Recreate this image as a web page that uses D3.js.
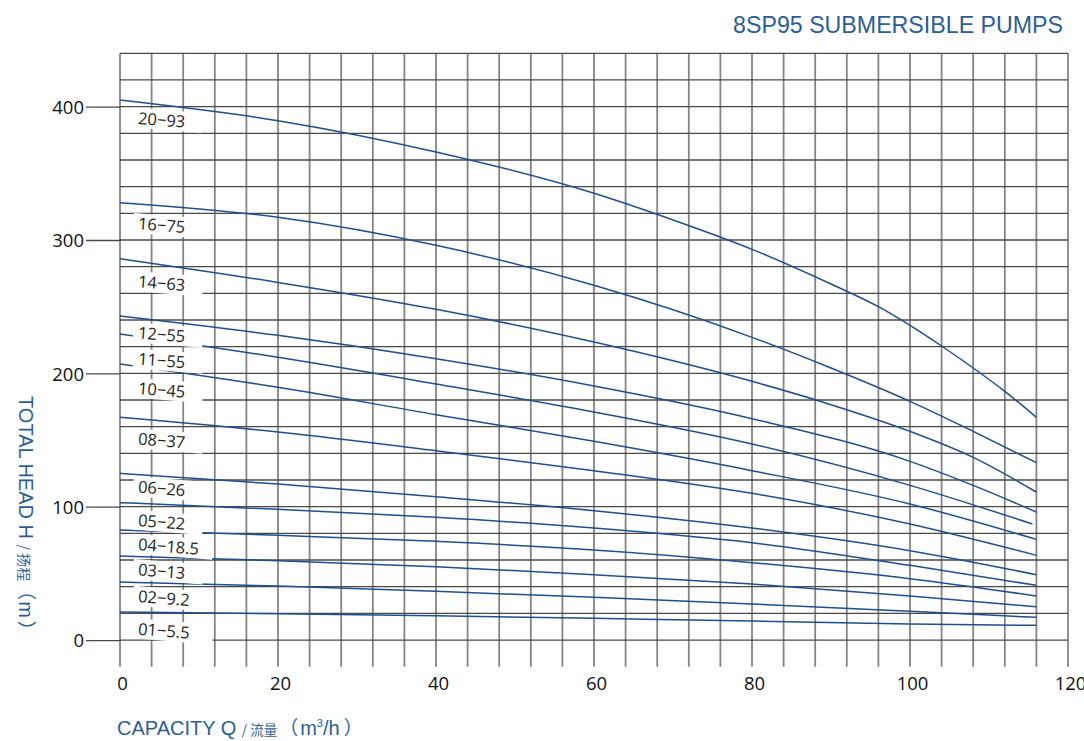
<!DOCTYPE html>
<html><head><meta charset="utf-8">
<script src="https://cdn.jsdelivr.net/npm/d3@7"></script>
<style>
html,body{margin:0;padding:0;background:#fff;}
svg{display:block;}
</style></head>
<body>
<svg id="chart" width="1084" height="741"></svg>
<script>
// ---- data ----
const curveNames = ["20-93","16-75","14-63","12-55","11-55","10-45","08-37","06-26","05-22","04-18.5","03-13","02-9.2","01-5.5"];
const q_20_93 = [0,20,40,60,70,80,90,96,100,104,108,112,116];
const h_20_93 = [405,389.5,366,335,315,293,267,250,236,220.5,204,186.5,167];
const q_16_75 = [0,20,40,60,80,90,100,108,116];
const h_16_75 = [328,317,296,266,227,204,179,156.5,133];
const q_14_63 = [0,20,40,60,80,90,100,108,116];
const h_14_63 = [286,268.2,248,223.5,194,176.5,156.5,137,111];
const q_12_55 = [0,20,40,60,80,100,108,116];
const h_12_55 = [243,228.5,211,190.5,166,134,116,96];
const q_11_55 = [0,20,40,60,80,100,115.5];
const h_11_55 = [229.5,212,192,171,147,116,87];
const q_10_45 = [0,20,40,60,80,100,116];
const h_10_45 = [207,189.5,169,149,127,102,75.5];
const q_08_37 = [0,20,40,60,80,100,116];
const h_08_37 = [167,156,142,127,110,87,63.5];
const q_06_26 = [0,20,40,60,80,100,116];
const h_06_26 = [125,117,107.5,97,84,67,49];
const q_05_22 = [0,20,40,60,80,100,116];
const h_05_22 = [103,98,92,84,73,56,41];
const q_04_18 = [0,20,40,60,80,100,116];
const h_04_18 = [82.5,78.5,74,67.5,58,46,33];
const q_03_13 = [0,20,40,60,80,100,116];
const h_03_13 = [63,59.5,55,49,42,33,25];
const q_02_9 = [0,20,40,60,80,100,116];
const h_02_9 = [43.5,40.5,36.5,32,27,21.5,17];
const q_01_5 = [0,20,40,60,80,100,116];
const h_01_5 = [21,19.8,18.2,16.3,14.3,12,11];
// head value at the centre of each curve label
const labelHead = [391.5,312.5,269,230.5,211,189,151,115,90,72,53,33,8.5];
const xTicks = [0,20,40,60,80,100,120];
const yTicks = [0,100,200,300,400];

const qs = [q_20_93,q_16_75,q_14_63,q_12_55,q_11_55,q_10_45,q_08_37,q_06_26,q_05_22,q_04_18,q_03_13,q_02_9,q_01_5];
const hs = [h_20_93,h_16_75,h_14_63,h_12_55,h_11_55,h_10_45,h_08_37,h_06_26,h_05_22,h_04_18,h_03_13,h_02_9,h_01_5];

// ---- layout ----
const svg = d3.select("#chart");
const x = d3.scaleLinear().domain([0,120]).range([120,1068]);
const y = d3.scaleLinear().domain([-20,440]).range([666.7,53.3]);

const blue = "#2c5e93";
const lineBlue = "#1f4f8e";

// title
svg.append("text").attr("x",1063).attr("y",33).attr("text-anchor","end")
  .attr("font-family","'Liberation Sans', Arial, sans-serif").attr("font-size",23.2)
  .attr("fill",blue).text("8SP95 SUBMERSIBLE PUMPS");

// grid
const grid = svg.append("g");
grid.selectAll("line.v").data(d3.range(0,121,4)).join("line")
  .attr("x1",d=>x(d)).attr("x2",d=>x(d)).attr("y1",y(440)).attr("y2",y(-20))
  .attr("stroke","#858585").attr("stroke-width",1.8);
grid.selectAll("line.h").data(d3.range(0,441,20)).join("line")
  .attr("x1",x(0)).attr("x2",x(120)).attr("y1",d=>y(d)).attr("y2",d=>y(d))
  .attr("stroke","#4a4a4a").attr("stroke-width",1.3);

// y axis (ticks extend left)
const yAxis = d3.axisLeft(y).tickValues(yTicks).tickSize(34).tickPadding(2);
const gy = svg.append("g").attr("transform",`translate(${x(0)},0)`).call(yAxis);
gy.select(".domain").remove();
gy.selectAll(".tick line").attr("stroke","#4a4a4a").attr("stroke-width",1.3);
gy.selectAll(".tick text").attr("font-family","'Open Sans', 'Noto Sans', sans-serif")
  .attr("font-size",18.5).attr("fill","#111").attr("dy","0.36em");

// x axis
const xAxis = d3.axisBottom(x).tickValues(xTicks).tickSize(0).tickPadding(10);
const gx = svg.append("g").attr("transform",`translate(0,${y(-20)})`).call(xAxis);
gx.select(".domain").remove();
gx.selectAll(".tick text").attr("font-family","'Open Sans', 'Noto Sans', sans-serif")
  .attr("font-size",18.5).attr("fill","#111").attr("dx",2);

// curves
const line = d3.line().x(d=>x(d[0])).y(d=>y(d[1])).curve(d3.curveMonotoneX);
const curves = curveNames.map((n,i)=>({name:n, pts: qs[i].map((q,j)=>[q,hs[i][j]]), lh: labelHead[i]}));
svg.append("g").selectAll("path").data(curves).join("path")
  .attr("d",d=>line(d.pts)).attr("fill","none")
  .attr("stroke",lineBlue).attr("stroke-width",1.5);

// labels
const lab = svg.append("g").selectAll("g").data(curves).join("g")
  .attr("transform",d=>`translate(${x(2.3)},${y(d.lh)}) rotate(4.5)`);
lab.append("rect").attr("x",-5).attr("y",-10)
  .attr("width",d=>d.name.length>5?80:70).attr("height",20).attr("fill","#fff");
lab.append("text").attr("x",0).attr("y",0).attr("dy","0.36em")
  .attr("font-family","'Open Sans', 'Noto Sans', sans-serif").attr("font-size",16.5)
  .attr("fill","#222").text(d=>d.name.replace("-","\u2212"));

// axis titles
const cjk = "'Noto Sans CJK SC', sans-serif";
const xt = svg.append("text").attr("x",117).attr("y",735)
  .attr("font-family","'Liberation Sans', Arial, 'Noto Sans CJK SC', sans-serif").attr("font-size",20).attr("fill",blue);
xt.append("tspan").text("CAPACITY Q ");
xt.append("tspan").attr("font-size",13.5).attr("font-family",cjk).text("/ 流量");
xt.append("tspan").attr("font-family",cjk).attr("font-size",19).attr("dx",2).text("（");
xt.append("tspan").attr("dx",2).text("m");
xt.append("tspan").attr("font-size",11).attr("dy",-8).text("3");
xt.append("tspan").attr("dy",8).text("/h");
xt.append("tspan").attr("font-family",cjk).attr("font-size",19).attr("dx",4).text("）");

const yt = svg.append("text").attr("transform","translate(19,396) rotate(90)")
  .attr("font-family","'Liberation Sans', Arial, 'Noto Sans CJK SC', sans-serif").attr("font-size",20).attr("fill",blue);
yt.append("tspan").text("TOTAL HEAD H ");
yt.append("tspan").attr("font-size",14).attr("font-family",cjk).text("/ 扬程");
yt.append("tspan").attr("font-family",cjk).attr("font-size",19).attr("dx",0).text("（");
yt.append("tspan").attr("dx",1).text("m");
yt.append("tspan").attr("font-family",cjk).attr("font-size",19).attr("dx",3).text("）");
</script>
</body></html>
